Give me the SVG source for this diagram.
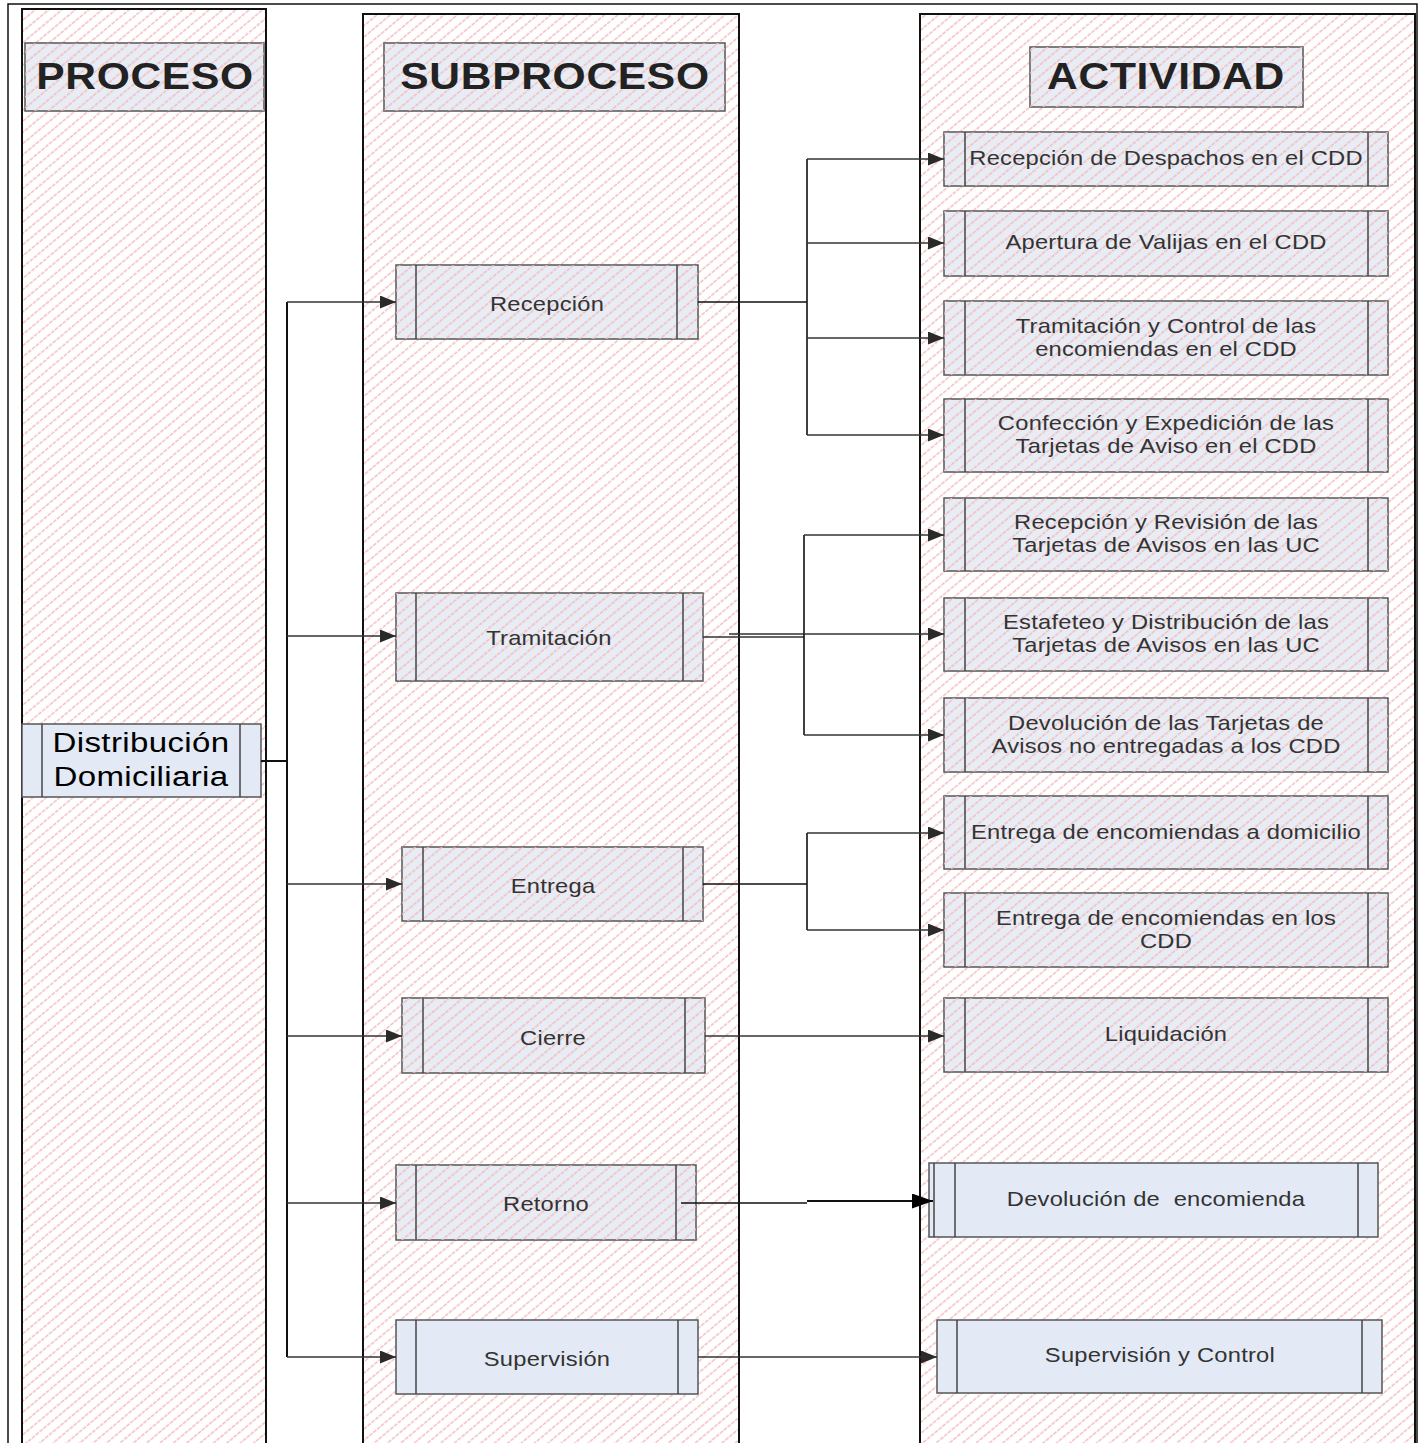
<svg xmlns="http://www.w3.org/2000/svg" width="1426" height="1443" viewBox="0 0 1426 1443">
  <style>
    .frame { fill: none; stroke: #111; stroke-width: 1.5; }
    .lane { fill: url(#hatch); stroke: #111; stroke-width: 2; }
    .box { fill: #e8ecf4; stroke: #555; stroke-width: 1.5; }
    .plain { fill: #e3eaf6; stroke: #555; stroke-width: 1.5; }
    .veil { fill: url(#hatch); stroke: none; }
    .bar { stroke: #444; stroke-width: 1.5; }
    .hdr { font-family: "Liberation Sans", Arial, sans-serif; font-weight: bold; font-size: 37px; fill: #222; letter-spacing: 0.6px; text-anchor: middle; }
    .lbl { font-family: "Liberation Sans", Arial, sans-serif; font-size: 21px; fill: #333; letter-spacing: 0.2px; text-anchor: middle; white-space: pre; }
    .big { font-family: "Liberation Sans", Arial, sans-serif; font-size: 28px; fill: #000; letter-spacing: 0.3px; text-anchor: middle; }
    .wire { fill: none; stroke: #333; stroke-width: 1.4; }
    .trunk { fill: none; stroke: #111; stroke-width: 2; }
  </style>
  <defs>
    <pattern id="hatch" width="10" height="8.6" patternUnits="userSpaceOnUse" patternTransform="rotate(-40)">
      <line x1="0" y1="4.3" x2="10" y2="4.3" stroke="#f3baba" stroke-width="1.3" stroke-dasharray="4 1"/>
    </pattern>
    <marker id="arrow" markerWidth="16" markerHeight="13" refX="16" refY="6.5" orient="auto" markerUnits="userSpaceOnUse">
      <path d="M0,0 L16,6.5 L0,13 z" fill="#2a2a2a"/>
    </marker>
    <marker id="arrowBlack" markerWidth="21" markerHeight="15" refX="21" refY="7.5" orient="auto" markerUnits="userSpaceOnUse">
      <path d="M0,0 L21,7.5 L0,15 z" fill="#000"/>
    </marker>
  </defs>

  <rect width="1426" height="1443" fill="#fff"/>
  <rect class="frame" x="8" y="4" width="1409" height="1460"/>

  <!-- swimlanes -->
  <g id="lanes">
    <rect class="lane" x="22" y="9" width="244" height="1460"/>
    <rect class="lane" x="363" y="14" width="376" height="1460"/>
    <rect class="lane" x="920" y="14" width="495" height="1460"/>
  </g>

  <!-- lane headers -->
  <g id="hdr-proceso">
    <rect class="box" x="25" y="43" width="239" height="68"/>
    <rect class="veil" x="25" y="43" width="239" height="68"/>
    <text class="hdr" transform="scale(1.15 1)" x="126.1" y="89">PROCESO</text>
  </g>
  <g id="hdr-subproceso">
    <rect class="box" x="384" y="43" width="341" height="68"/>
    <rect class="veil" x="384" y="43" width="341" height="68"/>
    <text class="hdr" transform="scale(1.15 1)" x="482.6" y="89">SUBPROCESO</text>
  </g>
  <g id="hdr-actividad">
    <rect class="box" x="1030" y="47" width="273" height="60"/>
    <rect class="veil" x="1030" y="47" width="273" height="60"/>
    <text class="hdr" transform="scale(1.15 1)" x="1013.9" y="89">ACTIVIDAD</text>
  </g>

  <!-- process -->
  <g id="n-distribucion">
    <rect class="plain" x="22" y="724" width="239" height="73"/>
    <line class="bar" x1="42" y1="724" x2="42" y2="797"/>
    <line class="bar" x1="240" y1="724" x2="240" y2="797"/>
    <text class="big" transform="scale(1.18 1)" x="119.5" y="752">Distribución</text>
    <text class="big" transform="scale(1.18 1)" x="119.5" y="786">Domiciliaria</text>
  </g>

  <!-- subprocesses -->
  <g id="n-recepcion">
    <rect class="box" x="396" y="265" width="302" height="74"/>
    <rect class="veil" x="396" y="265" width="302" height="74"/>
    <line class="bar" x1="416" y1="265" x2="416" y2="339"/>
    <line class="bar" x1="677" y1="265" x2="677" y2="339"/>
    <text class="lbl" transform="scale(1.13 1)" x="484.1" y="311">Recepción</text>
  </g>
  <g id="n-tramitacion">
    <rect class="box" x="396" y="593" width="307" height="88"/>
    <rect class="veil" x="396" y="593" width="307" height="88"/>
    <line class="bar" x1="416" y1="593" x2="416" y2="681"/>
    <line class="bar" x1="683" y1="593" x2="683" y2="681"/>
    <text class="lbl" transform="scale(1.13 1)" x="485.8" y="645">Tramitación</text>
  </g>
  <g id="n-entrega">
    <rect class="box" x="402" y="847" width="301" height="74"/>
    <rect class="veil" x="402" y="847" width="301" height="74"/>
    <line class="bar" x1="423" y1="847" x2="423" y2="921"/>
    <line class="bar" x1="683" y1="847" x2="683" y2="921"/>
    <text class="lbl" transform="scale(1.13 1)" x="489.4" y="893">Entrega</text>
  </g>
  <g id="n-cierre">
    <rect class="box" x="402" y="998" width="303" height="75"/>
    <rect class="veil" x="402" y="998" width="303" height="75"/>
    <line class="bar" x1="423" y1="998" x2="423" y2="1073"/>
    <line class="bar" x1="685" y1="998" x2="685" y2="1073"/>
    <text class="lbl" transform="scale(1.13 1)" x="489.4" y="1045">Cierre</text>
  </g>
  <g id="n-retorno">
    <rect class="box" x="396" y="1165" width="300" height="75"/>
    <rect class="veil" x="396" y="1165" width="300" height="75"/>
    <line class="bar" x1="416" y1="1165" x2="416" y2="1240"/>
    <line class="bar" x1="676" y1="1165" x2="676" y2="1240"/>
    <text class="lbl" transform="scale(1.13 1)" x="483.2" y="1211">Retorno</text>
  </g>
  <g id="n-supervision">
    <rect class="plain" x="396" y="1320" width="302" height="74"/>
    <line class="bar" x1="416" y1="1320" x2="416" y2="1394"/>
    <line class="bar" x1="678" y1="1320" x2="678" y2="1394"/>
    <text class="lbl" transform="scale(1.13 1)" x="484.1" y="1366">Supervisión</text>
  </g>

  <!-- activities -->
  <g id="a-recepcion-despachos">
    <rect class="box" x="944" y="132" width="444" height="54"/>
    <rect class="veil" x="944" y="132" width="444" height="54"/>
    <line class="bar" x1="965" y1="132" x2="965" y2="186"/>
    <line class="bar" x1="1368" y1="132" x2="1368" y2="186"/>
    <text class="lbl" transform="scale(1.13 1)" x="1031.9" y="165">Recepción de Despachos en el CDD</text>
  </g>
  <g id="a-apertura">
    <rect class="box" x="944" y="211" width="444" height="65"/>
    <rect class="veil" x="944" y="211" width="444" height="65"/>
    <line class="bar" x1="965" y1="211" x2="965" y2="276"/>
    <line class="bar" x1="1368" y1="211" x2="1368" y2="276"/>
    <text class="lbl" transform="scale(1.13 1)" x="1031.9" y="249">Apertura de Valijas en el CDD</text>
  </g>
  <g id="a-tramitacion-control">
    <rect class="box" x="944" y="301" width="444" height="74"/>
    <rect class="veil" x="944" y="301" width="444" height="74"/>
    <line class="bar" x1="965" y1="301" x2="965" y2="375"/>
    <line class="bar" x1="1368" y1="301" x2="1368" y2="375"/>
    <text class="lbl" transform="scale(1.13 1)" x="1031.9" y="333">Tramitación y Control de las</text>
    <text class="lbl" transform="scale(1.13 1)" x="1031.9" y="356">encomiendas en el CDD</text>
  </g>
  <g id="a-confeccion">
    <rect class="box" x="944" y="399" width="444" height="73"/>
    <rect class="veil" x="944" y="399" width="444" height="73"/>
    <line class="bar" x1="965" y1="399" x2="965" y2="472"/>
    <line class="bar" x1="1368" y1="399" x2="1368" y2="472"/>
    <text class="lbl" transform="scale(1.13 1)" x="1031.9" y="430">Confección y Expedición de las</text>
    <text class="lbl" transform="scale(1.13 1)" x="1031.9" y="453">Tarjetas de Aviso en el CDD</text>
  </g>
  <g id="a-recepcion-revision">
    <rect class="box" x="944" y="498" width="444" height="73"/>
    <rect class="veil" x="944" y="498" width="444" height="73"/>
    <line class="bar" x1="965" y1="498" x2="965" y2="571"/>
    <line class="bar" x1="1368" y1="498" x2="1368" y2="571"/>
    <text class="lbl" transform="scale(1.13 1)" x="1031.9" y="529">Recepción y Revisión de las</text>
    <text class="lbl" transform="scale(1.13 1)" x="1031.9" y="552">Tarjetas de Avisos en las UC</text>
  </g>
  <g id="a-estafeteo">
    <rect class="box" x="944" y="598" width="444" height="73"/>
    <rect class="veil" x="944" y="598" width="444" height="73"/>
    <line class="bar" x1="965" y1="598" x2="965" y2="671"/>
    <line class="bar" x1="1368" y1="598" x2="1368" y2="671"/>
    <text class="lbl" transform="scale(1.13 1)" x="1031.9" y="629">Estafeteo y Distribución de las</text>
    <text class="lbl" transform="scale(1.13 1)" x="1031.9" y="652">Tarjetas de Avisos en las UC</text>
  </g>
  <g id="a-devolucion-tarjetas">
    <rect class="box" x="944" y="698" width="444" height="74"/>
    <rect class="veil" x="944" y="698" width="444" height="74"/>
    <line class="bar" x1="965" y1="698" x2="965" y2="772"/>
    <line class="bar" x1="1368" y1="698" x2="1368" y2="772"/>
    <text class="lbl" transform="scale(1.13 1)" x="1031.9" y="730">Devolución de las Tarjetas de</text>
    <text class="lbl" transform="scale(1.13 1)" x="1031.9" y="753">Avisos no entregadas a los CDD</text>
  </g>
  <g id="a-entrega-domicilio">
    <rect class="box" x="944" y="796" width="444" height="73"/>
    <rect class="veil" x="944" y="796" width="444" height="73"/>
    <line class="bar" x1="965" y1="796" x2="965" y2="869"/>
    <line class="bar" x1="1368" y1="796" x2="1368" y2="869"/>
    <text class="lbl" transform="scale(1.13 1)" x="1031.9" y="839">Entrega de encomiendas a domicilio</text>
  </g>
  <g id="a-entrega-cdd">
    <rect class="box" x="944" y="893" width="444" height="74"/>
    <rect class="veil" x="944" y="893" width="444" height="74"/>
    <line class="bar" x1="965" y1="893" x2="965" y2="967"/>
    <line class="bar" x1="1368" y1="893" x2="1368" y2="967"/>
    <text class="lbl" transform="scale(1.13 1)" x="1031.9" y="925">Entrega de encomiendas en los</text>
    <text class="lbl" transform="scale(1.13 1)" x="1031.9" y="948">CDD</text>
  </g>
  <g id="a-liquidacion">
    <rect class="box" x="944" y="998" width="444" height="74"/>
    <rect class="veil" x="944" y="998" width="444" height="74"/>
    <line class="bar" x1="965" y1="998" x2="965" y2="1072"/>
    <line class="bar" x1="1368" y1="998" x2="1368" y2="1072"/>
    <text class="lbl" transform="scale(1.13 1)" x="1031.9" y="1041">Liquidación</text>
  </g>
  <g id="a-devolucion-encomienda">
    <rect class="plain" x="929" y="1163" width="449" height="74"/>
    <line class="bar" x1="934" y1="1163" x2="934" y2="1237"/>
    <line class="bar" x1="955" y1="1163" x2="955" y2="1237"/>
    <line class="bar" x1="1358" y1="1163" x2="1358" y2="1237"/>
    <text class="lbl" transform="scale(1.13 1)" x="1023" y="1206">Devolución de  encomienda</text>
  </g>
  <g id="a-supervision-control">
    <rect class="plain" x="937" y="1320" width="445" height="73"/>
    <line class="bar" x1="957" y1="1320" x2="957" y2="1393"/>
    <line class="bar" x1="1362" y1="1320" x2="1362" y2="1393"/>
    <text class="lbl" transform="scale(1.13 1)" x="1026.5" y="1362">Supervisión y Control</text>
  </g>

  <!-- connectors -->
  <g id="connectors">
    <!-- process to subprocesses -->
    <path class="trunk" d="M261,761 H287"/>
    <path class="trunk" d="M287,302 V1357"/>
    <path class="wire" d="M287,302 H396" marker-end="url(#arrow)"/>
    <path class="wire" d="M287,636 H396" marker-end="url(#arrow)"/>
    <path class="wire" d="M287,884 H402" marker-end="url(#arrow)"/>
    <path class="wire" d="M287,1036 H402" marker-end="url(#arrow)"/>
    <path class="wire" d="M287,1203 H396" marker-end="url(#arrow)"/>
    <path class="wire" d="M287,1357 H396" marker-end="url(#arrow)"/>

    <!-- Recepción -->
    <path class="trunk" style="stroke-width:1.6" d="M698,302 H807 M807,159 V435"/>
    <path class="wire" d="M807,159 H944" marker-end="url(#arrow)"/>
    <path class="wire" d="M807,243 H944" marker-end="url(#arrow)"/>
    <path class="wire" d="M807,338 H944" marker-end="url(#arrow)"/>
    <path class="wire" d="M807,435 H944" marker-end="url(#arrow)"/>

    <!-- Tramitación -->
    <path class="wire" d="M703,637 H729 M729,637 H804 M729,634 H804"/>
    <path class="trunk" style="stroke-width:1.6" d="M804,535 V735"/>
    <path class="wire" d="M804,535 H944" marker-end="url(#arrow)"/>
    <path class="wire" d="M804,634 H944" marker-end="url(#arrow)"/>
    <path class="wire" d="M804,735 H944" marker-end="url(#arrow)"/>

    <!-- Entrega -->
    <path class="trunk" style="stroke-width:1.6" d="M703,884 H807 M807,833 V930"/>
    <path class="wire" d="M807,833 H944" marker-end="url(#arrow)"/>
    <path class="wire" d="M807,930 H944" marker-end="url(#arrow)"/>

    <!-- Cierre -->
    <path class="wire" d="M705,1036 H944" marker-end="url(#arrow)"/>

    <!-- Retorno -->
    <path class="wire" style="stroke:#111" d="M681,1203 H807"/>
    <path class="wire" style="stroke:#111;stroke-width:2" d="M807,1201 H933" marker-end="url(#arrowBlack)"/>

    <!-- Supervisión -->
    <path class="wire" d="M698,1357 H937" marker-end="url(#arrow)"/>
  </g>
</svg>
